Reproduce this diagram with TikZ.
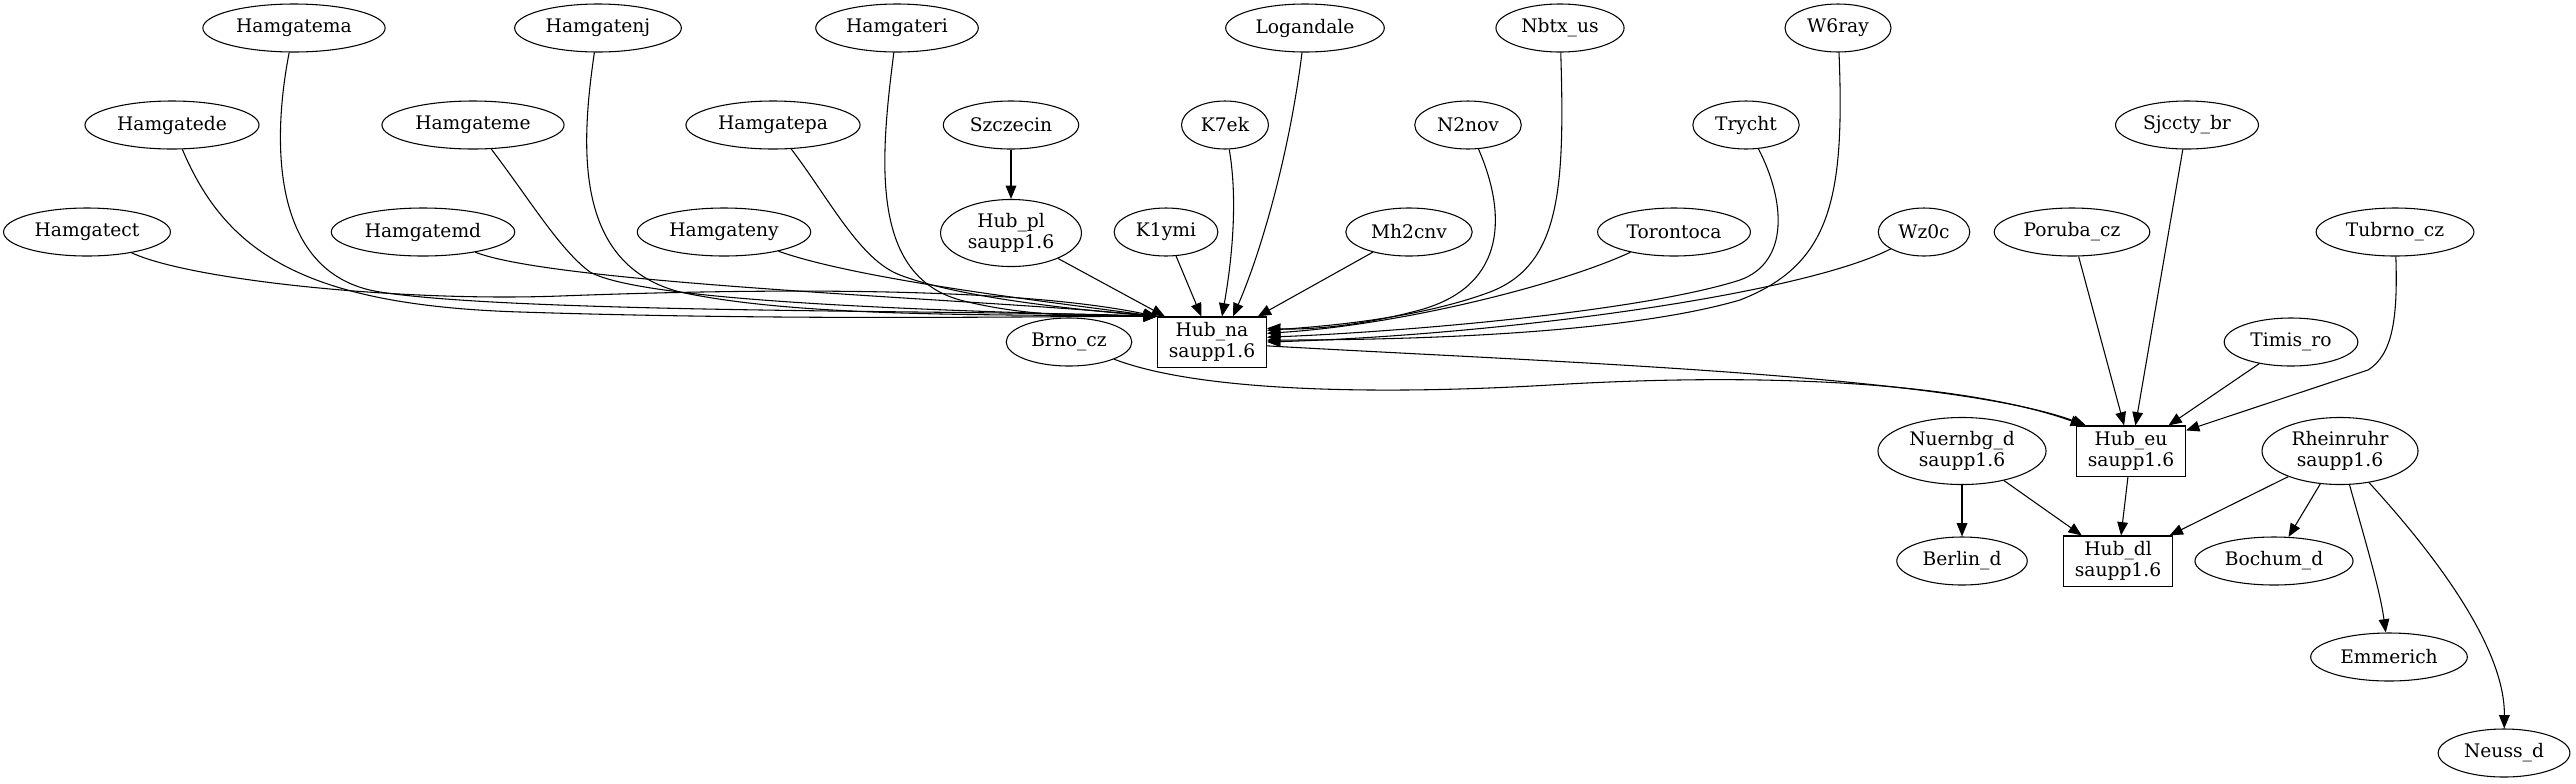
\documentclass[tikz,border=0pt]{standalone}
\usepackage{fontspec}
\setmainfont{DejaVu Serif}
\usetikzlibrary{calc}
\usetikzlibrary{arrows.meta}
\usetikzlibrary{shapes.geometric}

\begin{document}
\begin{tikzpicture}[
    x=0.75pt, y=-0.75pt,
    font=\fontsize{14}{16}\selectfont,
    l/.style={
        line width=0.8pt,
        -{Triangle[length=10pt,width=8pt]}
    },
    e/.style={
        ellipse, draw, line width=0.8pt, align=center,
        inner xsep=5pt, inner ysep=3pt,
        minimum width=54pt, minimum height=36pt
    },
    b/.style={
        rectangle, draw, line width=0.8pt, align=center,
        inner xsep=8.5pt, inner ysep=4pt
    }
]
    \useasboundingbox (0,0) rectangle (2576,783);

    \node [e] (CT) at (  87, 232) {Hamgatect};
    \node [e] (DE) at ( 172, 125) {Hamgatede};
    \node [e] (MA) at ( 294,  28) {Hamgatema};
    \node [e] (MD) at ( 423, 232) {Hamgatemd};
    \node [e] (ME) at ( 473, 125) {Hamgateme};
    \node [e] (NJ) at ( 598,  28) {Hamgatenj};
    \node [e] (NY) at ( 724, 232) {Hamgateny};
    \node [e] (PA) at ( 773, 125) {Hamgatepa};
    \node [e] (RI) at ( 897,  28) {Hamgateri};
    \node [e] (SZ) at (1011, 125) {Szczecin};
    \node [e] (PL) at (1011, 233) {Hub\_pl\\saupp1.6};
    \node [e] (BR) at (1069, 342) {Brno\_cz};
    \node [e] (K1) at (1166, 232) {K1ymi};
    \node [b] (NA) at (1212, 342) {Hub\_na\\saupp1.6};
    \node [e] (K7) at (1225, 125) {K7ek};
    \node [e] (LO) at (1305,  28) {Logandale};
    \node [e] (MH) at (1409, 232) {Mh2cnv};
    \node [e] (N2) at (1468, 125) {N2nov};
    \node [e] (NB) at (1560,  28) {Nbtx\_us};
    \node [e] (TO) at (1674, 232) {Torontoca};
    \node [e] (TR) at (1746, 125) {Trycht};
    \node [e] (W6) at (1838,  28) {W6ray};
    \node [e] (WZ) at (1924, 232) {Wz0c};
    \node [e] (PO) at (2072, 232) {Poruba\_cz};
    \node [e] (SJ) at (2187, 125) {Sjccty\_br};
    \node [e] (TI) at (2291, 342) {Timis\_ro};
    \node [e] (TU) at (2395, 232) {Tubrno\_cz};
    \node [e] (NU) at (1962, 451) {Nuernbg\_d\\saupp1.6};
    \node [b] (EU) at (2131, 451) {Hub\_eu\\saupp1.6};
    \node [e] (RH) at (2340, 451) {Rheinruhr\\saupp1.6};
    \node [e] (BE) at (1962, 561) {Berlin\_d};
    \node [b] (DL) at (2118, 561) {Hub\_dl\\saupp1.6};
    \node [e] (BO) at (2274, 561) {Bochum\_d};
    \node [e] (EM) at (2389, 657) {Emmerich};
    \node [e] (NE) at (2504, 753) {Neuss\_d};

    % left side into Hub_na
    \draw [l] (CT) .. controls (190,280) and (400,302) .. (560,296)
        .. controls (720,290) and (1000,284) .. (NA.north west);
    \draw [l] (DE) .. controls (225,250) and (300,305) .. (520,312)
        .. controls (800,321) and (1050,316) .. (NA.north west);
    \draw [l] (MA) .. controls (272,140) and (270,275) .. (380,292)
        .. controls (520,314) and (1000,310) .. (NA.north west);
    \draw [l] (MD) .. controls (560,285) and (1000,300) .. (NA.north west);
    \draw [l] (ME) .. controls (530,200) and (560,250) .. (590,272)
        .. controls (640,300) and (900,310) .. (NA.north west);
    \draw [l] (NJ) .. controls (580,150) and (575,265) .. (680,292)
        .. controls (800,318) and (1000,314) .. (NA.north west);
    \draw [l] (NY) .. controls (860,280) and (1050,302) .. (NA.north west);
    \draw [l] (PA) .. controls (830,200) and (860,260) .. (900,275)
        .. controls (960,298) and (1080,310) .. (NA.north west);
    \draw [l] (RI) .. controls (880,160) and (870,275) .. (960,300)
        .. controls (1030,318) and (1100,316) .. (NA.north west);
    \draw (SZ) edge [l] (PL);
    \draw (PL) edge [l] (NA);
    \draw (K1) edge [l] (NA);
    \draw [l] (K7) .. controls (1238,200) and (1232,260) .. ($(NA.north)+(10,0)$);
    \draw [l] (LO) .. controls (1290,150) and (1262,250) .. ($(NA.north)+(21,0)$);
    \draw (MH) edge [l] (NA);

    % right side into Hub_na
    \draw [l] (N2) .. controls (1505,210) and (1510,285) .. (1420,310)
        .. controls (1360,326) and (1310,330) .. (NA.14);
    \draw [l] (NB) .. controls (1565,190) and (1560,265) .. (1490,292)
        .. controls (1420,318) and (1330,326) .. (NA.12);
    \draw [l] (TO) .. controls (1560,285) and (1400,325) .. (NA.9);
    \draw [l] (TR) .. controls (1785,200) and (1790,262) .. (1740,280)
        .. controls (1640,312) and (1400,332) .. (NA.5);
    \draw [l] (W6) .. controls (1845,200) and (1830,265) .. (1740,300)
        .. controls (1620,335) and (1400,340) .. (NA.2);
    \draw [l] (WZ) .. controls (1800,295) and (1500,335) .. (NA.east);

    % into Hub_eu
    \draw [l] (NA.356) .. controls (1550,362) and (1950,375) .. ($(EU.north west)+(10,0)$);
    \draw [l] (BR) .. controls (1200,392) and (1380,395) .. (1550,385)
        .. controls (1800,370) and (1980,388) .. ($(EU.north west)+(8,0)$);
    \draw (PO) edge [l] (EU);
    \draw (SJ) edge [l] (EU);
    \draw (TI) edge [l] (EU);
    \draw [l] (TU) .. controls (2398,320) and (2392,355) .. (2368,370)
        -- ($(EU.north east)+(0,5)$);

    % lower part
    \draw (EU) edge [l] (DL);
    \draw (NU) edge [l] (BE);
    \draw (NU) edge [l] (DL);
    \draw (RH) edge [l] (DL);
    \draw (RH) edge [l] (BO);
    \draw [l] (RH) .. controls (2365,540) and (2380,590) .. (EM);
    \draw [l] (RH) .. controls (2440,560) and (2505,650) .. (NE);

\end{tikzpicture}
\end{document}
